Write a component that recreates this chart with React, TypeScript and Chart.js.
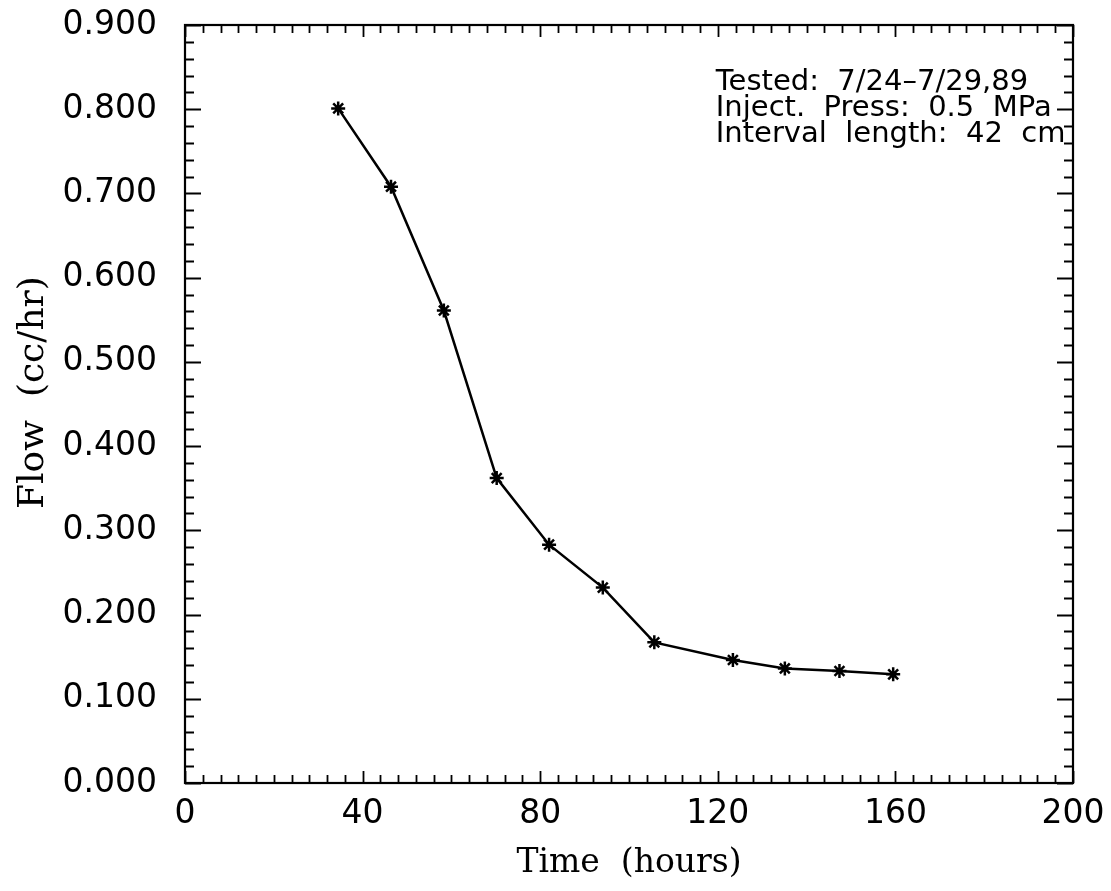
import React, { useEffect, useRef } from "react";
import { Chart, registerables } from "chart.js";

Chart.register(...registerables);

const timeHours = [34.5, 46.4, 58.3, 70.2, 82.0, 94.1, 105.7, 123.4, 135.1, 147.4, 159.5];
const flowCcHr = [0.801, 0.708, 0.561, 0.362, 0.283, 0.232, 0.167, 0.146, 0.136, 0.133, 0.129];
const xMajorTicks = [0, 40, 80, 120, 160, 200];
const yMajorTicks = [0, 0.1, 0.2, 0.3, 0.4, 0.5, 0.6, 0.7, 0.8, 0.9];
const xMinorStep = 4;
const yMinorStep = 0.02;
const annotationLines = [
  "Tested:  7/24\u20137/29,89",
  "Inject.  Press:  0.5  MPa",
  "Interval  length:  42  cm",
];
const annotationAnchor = { x: 120, y: 0.823 };

const SANS = "'DejaVu Sans', sans-serif";
const SERIF = "'DejaVu Serif', serif";

const framePlugin = {
  id: "frame",
  afterDraw(chart: any) {
    const { ctx, chartArea } = chart;
    const xs = chart.scales.x;
    const ys = chart.scales.y;
    const { left, right, top, bottom } = chartArea;
    ctx.save();
    ctx.strokeStyle = "#000";
    ctx.lineWidth = 2.2;
    ctx.strokeRect(left, top, right - left, bottom - top);
    ctx.lineWidth = 1.8;
    ctx.beginPath();
    for (let v = xs.min; v <= xs.max + 1e-9; v += xMinorStep) {
      const isMajor = xMajorTicks.some((m) => Math.abs(m - v) < 1e-6);
      const len = isMajor ? 12 : 8;
      const px = Math.round(xs.getPixelForValue(v)) + 0.5;
      ctx.moveTo(px, bottom);
      ctx.lineTo(px, bottom - len);
      ctx.moveTo(px, top);
      ctx.lineTo(px, top + len);
    }
    for (let i = 0; i * yMinorStep <= ys.max + 1e-9; i++) {
      const v = i * yMinorStep;
      const isMajor = yMajorTicks.some((m) => Math.abs(m - v) < 1e-6);
      const len = isMajor ? 16 : 9;
      const py = Math.round(ys.getPixelForValue(v)) + 0.5;
      ctx.moveTo(left, py);
      ctx.lineTo(left + len, py);
      ctx.moveTo(right, py);
      ctx.lineTo(right - len, py);
    }
    ctx.stroke();

    ctx.fillStyle = "#000";
    ctx.font = `29px ${SANS}`;
    ctx.textAlign = "left";
    ctx.textBaseline = "alphabetic";
    const ax = xs.getPixelForValue(annotationAnchor.x);
    const ay = ys.getPixelForValue(annotationAnchor.y);
    annotationLines.forEach((t, i) => ctx.fillText(t, ax - 2, ay + i * 26));
    ctx.restore();
  },
};

export default function App() {
  const ref = useRef<HTMLCanvasElement>(null);
  useEffect(() => {
    if (!ref.current) return;
    const chart = new Chart(ref.current, {
      type: "line",
      data: {
        datasets: [
          {
            data: timeHours.map((t, i) => ({ x: t, y: flowCcHr[i] })),
            borderColor: "#000",
            backgroundColor: "#000",
            borderWidth: 2.5,
            pointStyle: "star",
            pointRadius: 7,
            pointBorderWidth: 2.5,
            pointBorderColor: "#000",
            tension: 0,
            fill: false,
          },
        ],
      },
      options: {
        animation: false,
        responsive: false,
        maintainAspectRatio: false,
        layout: { padding: { top: 25, right: 38, left: 0, bottom: 0 } },
        plugins: { legend: { display: false }, tooltip: { enabled: false } },
        scales: {
          x: {
            type: "linear",
            min: 0,
            max: 200,
            afterFit: (s: any) => {
              s.height = 108;
              s.paddingLeft = 0;
              s.paddingRight = 0;
            },
            afterBuildTicks: (s: any) => {
              s.ticks = xMajorTicks.map((v) => ({ value: v }));
            },
            grid: { display: false, drawTicks: false },
            border: { display: false },
            ticks: {
              color: "#000",
              padding: 12,
              maxRotation: 0,
              autoSkip: false,
              font: { family: SANS, size: 33 },
              callback: (v: any) => String(v),
            },
            title: {
              display: true,
              text: "Time  (hours)",
              color: "#000",
              font: { family: SERIF, size: 33 },
              padding: { top: 0, bottom: 8 },
            },
          },
          y: {
            type: "linear",
            min: 0,
            max: 0.9,
            afterFit: (s: any) => {
              s.width = 185;
              s.paddingTop = 0;
              s.paddingBottom = 0;
            },
            afterBuildTicks: (s: any) => {
              s.ticks = yMajorTicks.map((v) => ({ value: v }));
            },
            grid: { display: false, drawTicks: false },
            border: { display: false },
            ticks: {
              color: "#000",
              padding: 28,
              autoSkip: false,
              font: { family: SANS, size: 33 },
              callback: (v: any) => Number(v).toFixed(3),
            },
            title: {
              display: true,
              text: "  Flow  (cc/hr)",
              color: "#000",
              font: { family: SERIF, size: 36 },
              padding: { top: 12, bottom: 0 },
            },
          },
        },
      },
      plugins: [framePlugin],
    });
    return () => chart.destroy();
  }, []);
  return (
    <div style={{ position: "fixed", left: 0, top: 0, width: 1111, height: 891, background: "#fff" }}>
      <canvas ref={ref} width={1111} height={891} style={{ display: "block" }} />
    </div>
  );
}
